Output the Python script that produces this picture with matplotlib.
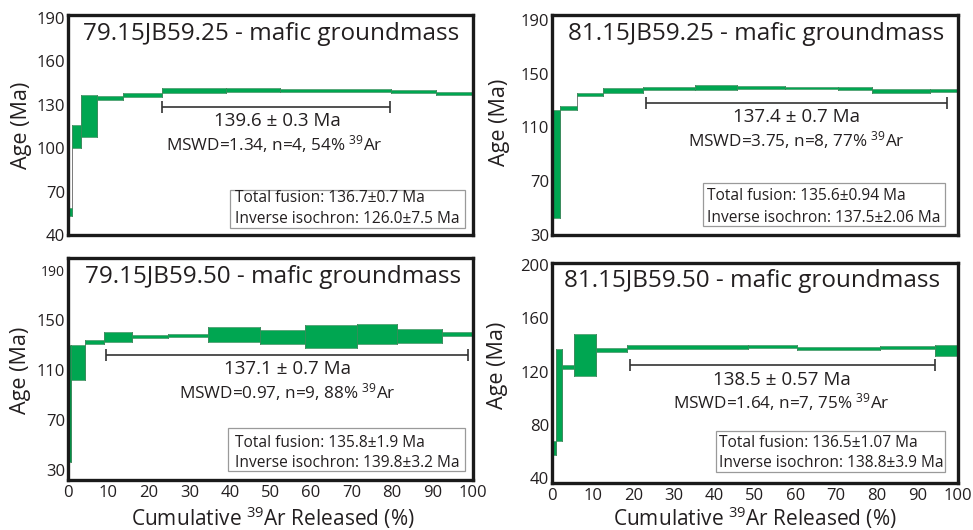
import matplotlib
matplotlib.use("Agg")
import matplotlib.pyplot as plt
from matplotlib.patches import Rectangle

plt.rcParams['font.family'] = ['Open Sans', 'DejaVu Sans']
plt.rcParams['mathtext.fontset'] = 'custom'
plt.rcParams['mathtext.rm'] = 'Open Sans'

W, H = 973, 530
GREEN = '#00a651'
TXT = '#231f20'

# ---------------- data ----------------
titles = ["79.15JB59.25 - mafic groundmass", "81.15JB59.25 - mafic groundmass",
          "79.15JB59.50 - mafic groundmass", "81.15JB59.50 - mafic groundmass"]

p1_edges = [0, 1.1, 3.1, 7.1, 13.7, 23.1, 38.9, 52.3, 79.7, 90.9, 100]
p1_age = [56.0, 108.0, 122.3, 134.7, 136.5, 139.9, 140.4, 139.7, 139.0, 137.9]
p1_err = [3.0, 8.0, 14.4, 1.4, 1.4, 1.5, 1.4, 1.2, 1.2, 1.0]

p2_edges = [0, 2.0, 6.2, 12.5, 22.3, 35.2, 45.5, 57.4, 70.5, 78.7, 93.1, 100]
p2_age = [82.7, 124.5, 134.7, 137.5, 138.8, 139.7, 139.8, 139.4, 138.9, 137.2, 137.6]
p2_err = [40.3, 1.5, 1.1, 2.1, 1.1, 1.7, 1.4, 1.0, 1.0, 1.3, 1.2]

p3_edges = [0, 0.7, 4.2, 9.0, 15.7, 24.8, 34.6, 47.4, 58.5, 71.4, 81.3, 92.4, 100]
p3_age = [83.3, 116.0, 132.7, 136.7, 137.1, 138.0, 138.6, 137.0, 137.4, 139.4, 137.8, 139.0]
p3_err = [46.7, 14.0, 1.9, 4.0, 1.0, 1.3, 6.0, 5.6, 9.2, 8.0, 5.6, 1.6]

p4_edges = [0, 1.1, 2.5, 5.5, 10.8, 18.4, 48.3, 60.3, 80.8, 94.3, 100]
p4_age = [62.5, 102.3, 123.7, 132.6, 136.2, 138.5, 138.6, 137.5, 138.2, 135.9]
p4_err = [5.0, 34.8, 1.5, 15.7, 1.5, 1.2, 1.1, 1.0, 1.2, 3.9]

plateau_range = [(23.3, 79.5), (23.1, 97.2), (9.5, 98.8), (19.2, 94.3)]
plateau_level = [128.7, 128.0, 122.0, 125.2]
plateau_text = ["139.6 \u00b1 0.3 Ma", "137.4 \u00b1 0.7 Ma", "137.1 \u00b1 0.7 Ma", "138.5 \u00b1 0.57 Ma"]
mswd_text = [r"MSWD=1.34, n=4, 54% $\mathregular{^{39}}$Ar",
             r"MSWD=3.75, n=8, 77% $\mathregular{^{39}}$Ar",
             r"MSWD=0.97, n=9, 88% $\mathregular{^{39}}$Ar",
             r"MSWD=1.64, n=7, 75% $\mathregular{^{39}}$Ar"]
fusion_text = ["Total fusion: 136.7\u00b10.7 Ma", "Total fusion: 135.6\u00b10.94 Ma",
               "Total fusion: 135.8\u00b11.9 Ma", "Total fusion: 136.5\u00b11.07 Ma"]
isochron_text = ["Inverse isochron: 126.0\u00b17.5 Ma", "Inverse isochron: 137.5\u00b12.06 Ma",
                 "Inverse isochron: 139.8\u00b13.2 Ma", "Inverse isochron: 138.8\u00b13.9 Ma"]

yticks = [[40, 70, 100, 130, 160, 190], [30, 70, 110, 150, 190],
          [30, 70, 110, 150, 190], [40, 80, 120, 160, 200]]
ylims = [(40, 192), (30, 193.7), (22, 200), (36.2, 201.7)]
xticks = [0, 10, 20, 30, 40, 50, 60, 70, 80, 90, 100]

edges_all = [p1_edges, p2_edges, p3_edges, p4_edges]
ages_all = [p1_age, p2_age, p3_age, p4_age]
errs_all = [p1_err, p2_err, p3_err, p4_err]

# ---------------- layout (pixels) ----------------
axes_px = [(68, 15, 473, 235), (552, 15, 958, 235), (68, 258, 473, 480), (552, 263, 958, 483)]
title_pos = [(271.5, 39.5), (756.5, 39.5), (273.3, 283.3), (751.7, 286.7)]
pl_text_pos = [(277, 126), (796.7, 121.7), (287.5, 374), (781.7, 385)]
mswd_pos = [(274, 150), (796.5, 146.7), (287.5, 398.3), (781.7, 408.3)]
box_px = [(230, 190, 465, 228), (703, 183, 945, 226), (228, 428, 465, 470.7), (716, 431, 945, 471.7)]
box_text_x = [235, 707, 235, 719]
box_base = [(201.7, 223.3), (200, 221.7), (446.7, 466.7), (446.7, 467.3)]
ylabel_pos = [(22, 125), (500, 122), (21, 370), (498, 365)]


def fx(px):
    return px / W


def fy(py):
    return 1 - py / H


fig = plt.figure(figsize=(W / 100, H / 100), dpi=100)

for i in range(4):
    x0, y0, x1, y1 = axes_px[i]
    ax = fig.add_axes([fx(x0), fy(y1), (x1 - x0) / W, (y1 - y0) / H])
    ax.set_xlim(0, 100)
    ax.set_ylim(*ylims[i])
    edges = edges_all[i]
    ages = ages_all[i]
    errs = errs_all[i]
    # connectors
    for k in range(1, len(ages)):
        lo = min(ages[k - 1] - errs[k - 1], ages[k] - errs[k])
        hi = max(ages[k - 1] + errs[k - 1], ages[k] + errs[k])
        ax.plot([edges[k], edges[k]], [lo, hi], color='#7a7a7a', lw=0.7, zorder=1)
    for k in range(len(ages)):
        ax.add_patch(Rectangle((edges[k], ages[k] - errs[k]), edges[k + 1] - edges[k], 2 * errs[k],
                               facecolor=GREEN, edgecolor='#3d8a5a', lw=0.4, zorder=2))
    # plateau bar
    a, b = plateau_range[i]
    ax.errorbar([(a + b) / 2], [plateau_level[i]], xerr=[(b - a) / 2], fmt='none',
                ecolor='#333333', elinewidth=1.2, capsize=4, capthick=1.2, zorder=3)
    for s in ax.spines.values():
        s.set_linewidth(2.4)
        s.set_color('#1a1a1a')
    ax.set_yticks(yticks[i])
    ax.tick_params(axis='both', length=0, pad=2, labelsize=12, colors=TXT)
    if i >= 2:
        ax.set_xticks(xticks)
        ax.tick_params(axis='x', pad=3.5)
    else:
        ax.set_xticks([])
    if i == 2:
        for lab in ax.get_yticklabels():
            if lab.get_text() == '190':
                lab.set_fontsize(10)

    # texts
    fig.text(fx(title_pos[i][0]), fy(title_pos[i][1]), titles[i], ha='center', va='baseline',
             fontsize=17.5, color=TXT)
    fig.text(fx(pl_text_pos[i][0]), fy(pl_text_pos[i][1]), plateau_text[i], ha='center', va='baseline',
             fontsize=13.5, color=TXT)
    fig.text(fx(mswd_pos[i][0]), fy(mswd_pos[i][1]), mswd_text[i], ha='center', va='baseline',
             fontsize=12.3, color=TXT)
    bx0, by0, bx1, by1 = box_px[i]
    fig.add_artist(Rectangle((fx(bx0), fy(by1)), (bx1 - bx0) / W, (by1 - by0) / H,
                             transform=fig.transFigure, facecolor='white', edgecolor='#9a9a9a', lw=0.9))
    fig.text(fx(box_text_x[i]), fy(box_base[i][0]), fusion_text[i], ha='left', va='baseline',
             fontsize=11.2, color=TXT)
    fig.text(fx(box_text_x[i]), fy(box_base[i][1]), isochron_text[i], ha='left', va='baseline',
             fontsize=11.2, color=TXT)
    fig.text(fx(ylabel_pos[i][0]), fy(ylabel_pos[i][1]), "Age (Ma)", rotation=90, ha='center', va='center',
             fontsize=15.5, color=TXT)

for cx in [272.5, 755]:
    fig.text(fx(cx), fy(526), r"Cumulative $\mathregular{^{39}}$Ar Released (%)", ha='center', va='baseline',
             fontsize=15, color=TXT)

fig.savefig("out.png", dpi=100)
